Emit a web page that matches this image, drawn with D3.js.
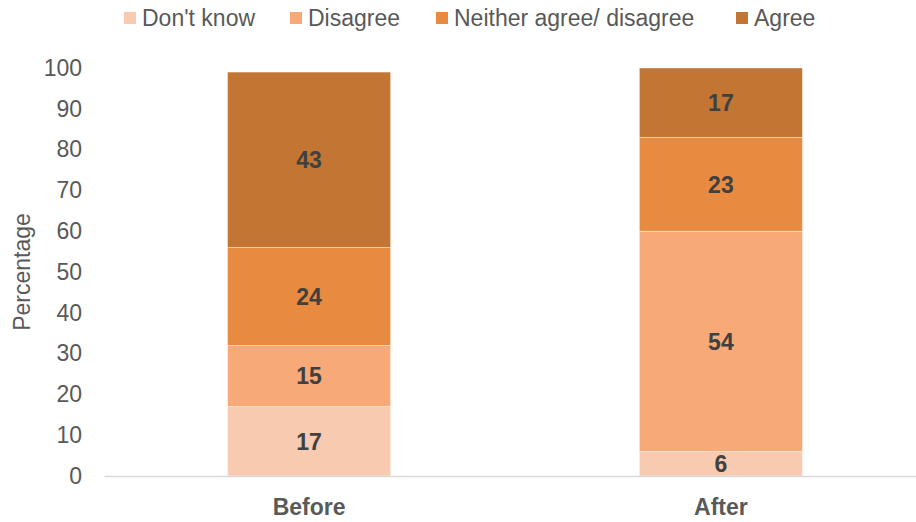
<!DOCTYPE html>
<html>
<head>
<meta charset="utf-8">
<script src="https://cdn.jsdelivr.net/npm/d3@7"></script>
<style>
  html, body { margin: 0; padding: 0; background: #fff; }
  svg { display: block; font-family: "Liberation Sans", Arial, sans-serif; }
</style>
</head>
<body>
<svg id="chart" width="916" height="522"></svg>
<script>
// Survey responses before and after, in percent
const periods = ["Before", "After"];
const responses = ["Don't know", "Disagree", "Neither agree/ disagree", "Agree"];
const dontKnow = [17, 6];
const disagree = [15, 54];
const neither = [24, 23];
const agree = [43, 17];
const yTicks = [0, 10, 20, 30, 40, 50, 60, 70, 80, 90, 100];
const colors = ["#F8CAB0", "#F7AA78", "#E88B41", "#C37534"];

const rows = periods.map((p, i) => ({
  period: p,
  "Don't know": dontKnow[i],
  "Disagree": disagree[i],
  "Neither agree/ disagree": neither[i],
  "Agree": agree[i]
}));

const svg = d3.select("#chart");
const W = 916, H = 522;
const plotLeft = 104, plotTop = 68, plotBottom = 476;
const FS = 23;

const x = d3.scaleBand().domain(periods)
  .range([plotLeft, 926])
  .paddingInner(0.604).paddingOuter(0.3);
const y = d3.scaleLinear().domain([0, 100]).range([plotBottom, plotTop]);
const color = d3.scaleOrdinal().domain(responses).range(colors);

const stacked = d3.stack().keys(responses)(rows);

// Stacked bars
const layers = svg.append("g").selectAll("g").data(stacked).join("g")
  .attr("fill", d => color(d.key));
layers.selectAll("rect").data(d => d.map(s => ({ key: d.key, s })))
  .join("rect")
  .attr("x", d => x(d.s.data.period))
  .attr("width", x.bandwidth())
  .attr("y", d => y(d.s[1]))
  .attr("height", d => y(d.s[0]) - y(d.s[1]))
  .attr("stroke", "#fff")
  .attr("stroke-opacity", 0.5)
  .attr("stroke-width", 0.75);

// Value labels
layers.selectAll("text").data(d => d.map(s => ({ key: d.key, s })))
  .join("text")
  .attr("x", d => x(d.s.data.period) + x.bandwidth() / 2)
  .attr("y", d => (y(d.s[0]) + y(d.s[1])) / 2)
  .attr("dy", "0.36em")
  .attr("text-anchor", "middle")
  .attr("font-size", FS)
  .attr("font-weight", "bold")
  .attr("fill", "#404040")
  .text(d => d.s.data[d.key]);

// Y axis (labels only)
const yAxis = svg.append("g")
  .attr("transform", "translate(82,0)")
  .call(d3.axisLeft(y).tickValues(yTicks).tickSize(0).tickPadding(0));
yAxis.select(".domain").remove();
yAxis.selectAll("text")
  .attr("font-size", FS)
  .attr("font-family", "Liberation Sans, Arial, sans-serif")
  .attr("fill", "#595959");

// X axis baseline and category labels
const xAxis = svg.append("g")
  .attr("transform", `translate(0,${y(0)})`)
  .call(d3.axisBottom(x).tickSize(0).tickPadding(23));
xAxis.select(".domain").attr("stroke", "#D9D9D9").attr("stroke-width", 1.5);
xAxis.selectAll("text")
  .attr("font-size", FS)
  .attr("font-weight", "bold")
  .attr("font-family", "Liberation Sans, Arial, sans-serif")
  .attr("fill", "#595959");

// Y axis title
svg.append("text")
  .attr("transform", `translate(30,${(y(0) + y(100)) / 2}) rotate(-90)`)
  .attr("text-anchor", "middle")
  .attr("font-size", FS)
  .attr("fill", "#595959")
  .text("Percentage");

// Legend
const legendX = [124, 290, 436, 736];
const legend = svg.append("g").selectAll("g").data(responses).join("g")
  .attr("transform", (d, i) => `translate(${legendX[i]},18)`);
legend.append("rect")
  .attr("x", 0).attr("y", -6).attr("width", 12).attr("height", 12)
  .attr("fill", d => color(d));
legend.append("text")
  .attr("x", 18).attr("dy", "0.36em")
  .attr("font-size", FS)
  .attr("fill", "#595959")
  .text(d => d);
</script>
</body>
</html>
